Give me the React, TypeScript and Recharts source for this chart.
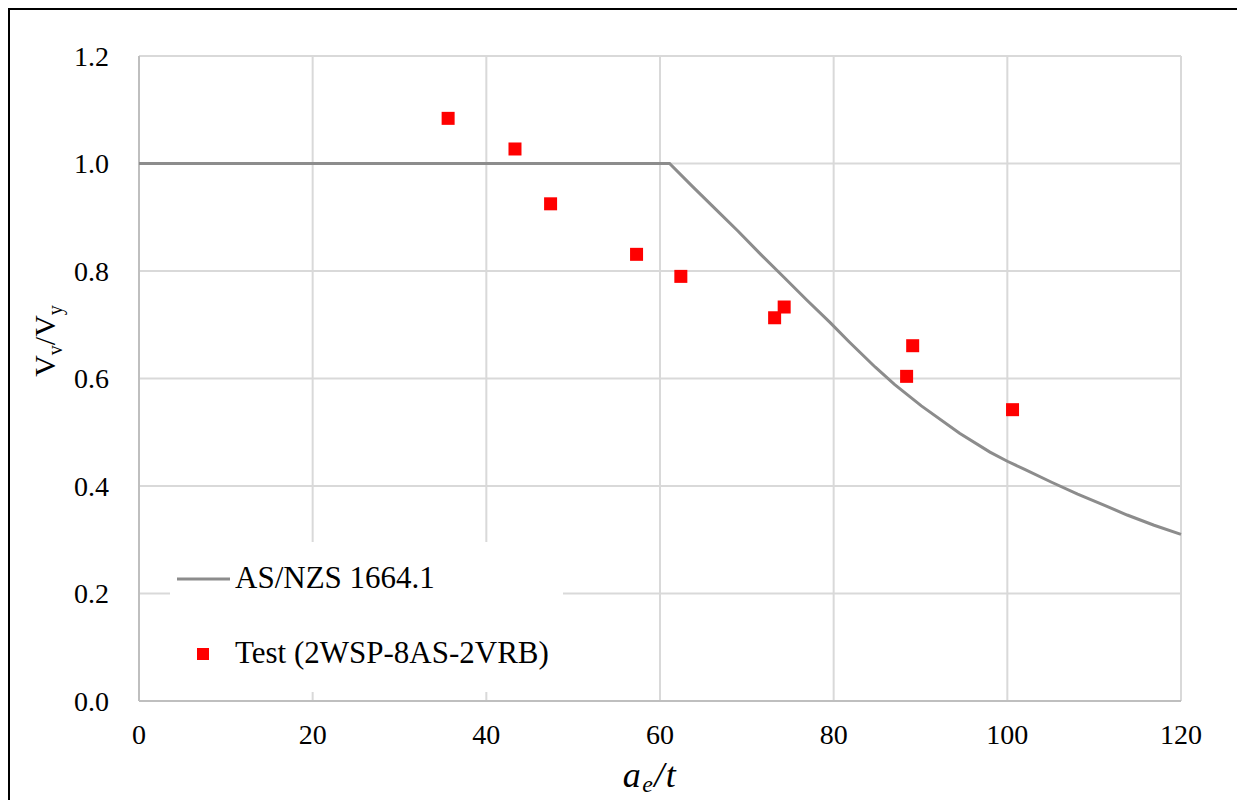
import { ScatterChart, Scatter, XAxis, YAxis, CartesianGrid, Label } from 'recharts';

// AS/NZS 1664.1 design curve
const curveX = [0, 61.1, 63.7, 66.4, 69.0, 71.6, 74.3, 76.9, 79.6, 81.8, 84.8, 87.0, 90.1, 94.5, 98.0, 100, 102.0, 105.1, 108.1, 111.2, 113.8, 116.9, 120];
const curveY = [1.0, 1.0, 0.958, 0.915, 0.874, 0.831, 0.788, 0.746, 0.704, 0.668, 0.621, 0.589, 0.549, 0.498, 0.463, 0.446, 0.431, 0.407, 0.385, 0.364, 0.346, 0.327, 0.31];

// test results (2WSP-8AS-2VRB)
const testX = [35.6, 43.3, 47.4, 57.3, 62.4, 73.2, 74.3, 88.4, 89.1, 100.6];
const testY = [1.084, 1.027, 0.925, 0.831, 0.79, 0.713, 0.733, 0.604, 0.661, 0.542];

const xTicks = [0, 20, 40, 60, 80, 100, 120];
const yTicks = [0, 0.2, 0.4, 0.6, 0.8, 1.0, 1.2];

const curveData = curveX.map((x, i) => ({ x, y: curveY[i] }));
const testData = testX.map((x, i) => ({ x, y: testY[i] }));

const FONT = '"Liberation Serif", "Times New Roman", serif';
const LINE_COLOR = '#8c8c8c';
const AXIS_COLOR = '#bfbfbf';
const GRID_COLOR = '#d9d9d9';

const NoDot = () => <g />;

const Square = (props: any) => {
  const { cx, cy } = props;
  return <rect x={cx - 6.5} y={cy - 6.5} width={13} height={13} fill="#ff0000" />;
};

const XTitle = (props: any) => {
  const { x, y, width } = props.viewBox;
  return (
    <text x={x + width / 2 - 10} y={y + 86} textAnchor="middle" fontFamily={FONT} fontStyle="italic" fontSize={36} fill="#000" letterSpacing={1.5}>
      a<tspan dy={5} fontSize={24}>e</tspan>
      <tspan dy={-5}>/t</tspan>
    </text>
  );
};

const YTitle = (props: any) => {
  const { x } = props.viewBox;
  const cx = x + 45;
  const cy = 331;
  return (
    <text x={cx} y={cy} transform={`rotate(-90, ${cx}, ${cy})`} textAnchor="middle" fontFamily={FONT} fontSize={30} fill="#000">
      V<tspan dy={7} fontSize={20}>v</tspan>
      <tspan dy={-7}>/V</tspan>
      <tspan dy={7} fontSize={20}>y</tspan>
    </text>
  );
};

const ChartLegend = () => (
  <div style={{ position: 'absolute', left: 160, top: 532, width: 393, height: 150, background: '#fff' }}>
    <svg width={393} height={150} style={{ display: 'block' }}>
      <line x1={7} y1={37} x2={60} y2={37} stroke={LINE_COLOR} strokeWidth={3} />
      <text x={65} y={46} fontFamily={FONT} fontSize={31} fill="#000">AS/NZS 1664.1</text>
      <rect x={27} y={106} width={12} height={12} fill="#ff0000" />
      <text x={65} y={121} fontFamily={FONT} fontSize={31} fill="#000">Test (2WSP-8AS-2VRB)</text>
    </svg>
  </div>
);

const App = () => {
  return (
    <div style={{ position: 'relative', width: 1231, height: 800, border: '2px solid #000', borderBottom: 'none', background: '#fff' }}>
      <style>{'html, body { overflow: hidden; }'}</style>
      <ScatterChart width={1231} height={790} margin={{ top: 46, right: 60, bottom: 39, left: 0 }}>
        <CartesianGrid stroke={GRID_COLOR} strokeWidth={2} />
        <XAxis
          type="number"
          dataKey="x"
          domain={[0, 120]}
          ticks={xTicks}
          height={60}
          tickSize={0}
          tickMargin={23}
          axisLine={{ stroke: AXIS_COLOR, strokeWidth: 2 }}
          tickLine={false}
          tick={{ fontSize: 28, fill: '#000', fontFamily: FONT }}
        >
          <Label content={XTitle} />
        </XAxis>
        <YAxis
          type="number"
          dataKey="y"
          domain={[0, 1.2]}
          ticks={yTicks}
          width={129}
          tickSize={0}
          tickMargin={30}
          axisLine={{ stroke: AXIS_COLOR, strokeWidth: 2 }}
          tickLine={false}
          tickFormatter={(v: number) => v.toFixed(1)}
          tick={{ fontSize: 28, fill: '#000', fontFamily: FONT }}
        >
          <Label content={YTitle} />
        </YAxis>
        <Scatter
          name="AS/NZS 1664.1"
          data={curveData}
          line={{ stroke: LINE_COLOR, strokeWidth: 3 }}
          lineType="joint"
          shape={NoDot}
          isAnimationActive={false}
        />
        <Scatter name="Test (2WSP-8AS-2VRB)" data={testData} shape={Square} isAnimationActive={false} />
      </ScatterChart>
      <ChartLegend />
    </div>
  );
};

export default App;
